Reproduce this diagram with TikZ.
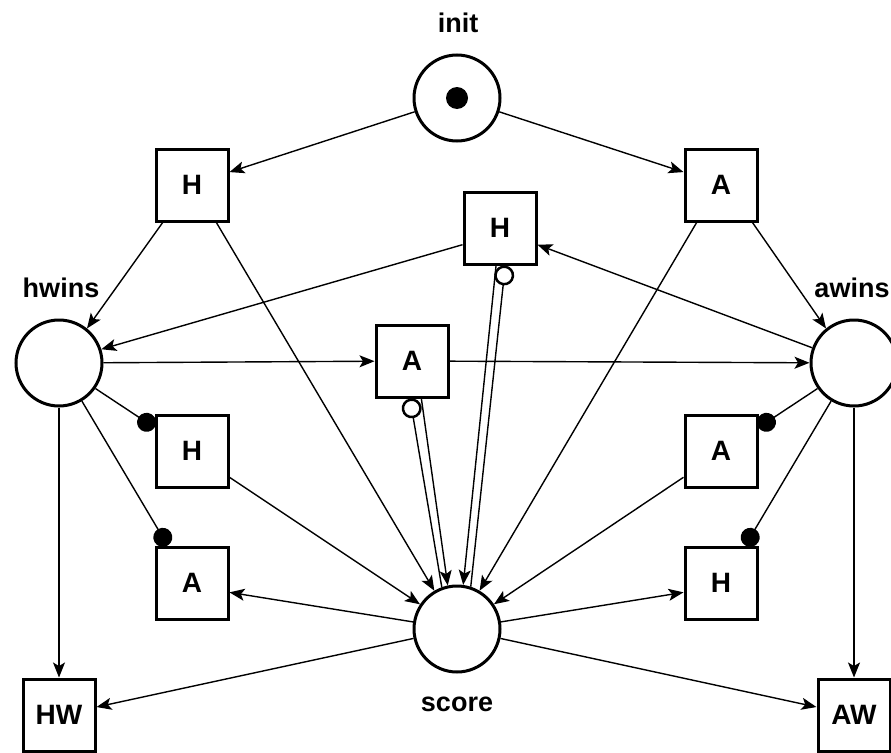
\documentclass[tikz,border=0pt]{standalone}
\usepackage{fontspec}
\setmainfont{Liberation Sans}
\usetikzlibrary{arrows.meta}
\begin{document}
\begin{tikzpicture}[x=1pt,y=-1pt,
  place/.style={circle,draw,line width=3pt,minimum size=86pt,inner sep=0pt},
  trans/.style={rectangle,draw,line width=3pt,minimum size=72pt,inner sep=0pt,
    font=\fontsize{28}{30}\selectfont\bfseries},
  lbl/.style={font=\fontsize{27}{30}\selectfont\bfseries,inner sep=0pt},
  arc/.style={line width=1.4pt,-{Stealth[length=15pt,width=12pt,inset=3.5pt]}},
  inhib/.style={line width=1.4pt,-{Circle[open,length=20pt,width=20pt,line width=2.5pt]}},
  testarc/.style={line width=1.4pt,-{Circle[length=19pt,width=19pt]}},
]
\fill[white] (0,0) rectangle (891,752);
\useasboundingbox (0,0) rectangle (891,752);

% places
\node[place] (init)  at (457,98)  {};
\node[place] (hwins) at (59,363)  {};
\node[place] (awins) at (854,363) {};
\node[place] (score) at (457,629) {};
\fill (init) circle (11pt);

% place labels
\node[lbl] (linit)  at (458,23)  {init};
\node[lbl] (lhwins) at (61,288)  {hwins};
\node[lbl] (lawins) at (852,288) {awins};
\node[lbl] (lscore) at (457,704) {score};

% transitions
\node[trans] (tH) at (192,185) {H};
\node[trans] (tA) at (721,185) {A};
\node[trans] (mH) at (500,228) {H};
\node[trans] (mA) at (412,361) {A};
\node[trans] (lH) at (192,451) {H};
\node[trans] (lA) at (192,583) {A};
\node[trans] (rA) at (721,451) {A};
\node[trans] (rH) at (721,583) {H};
\node[trans] (HW) at (59,715)  {HW};
\node[trans] (AW) at (854,715) {AW};

% arcs from init
\draw[arc] (init) -- (tH.19);
\draw[arc] (init) -- (tA.161);

% top transitions
\draw[arc] (tH.232) -- (hwins.51);
\draw[arc] (tH.-57) -- (score);
\draw[arc] (tA.-50) -- (awins.129);
\draw[arc] (tA.237) -- (score);

% middle transitions
\draw[arc] (awins.160) -- (mH.-24);
\draw[arc] (mH.204) -- (hwins.18);
\draw[arc] (hwins) -- (mA);
\draw[arc] (mA) -- (awins);
\draw[arc] (mA.-76) -- (score.102);
\draw[inhib] (score.110) -- (mA.-93);
\draw[arc] (mH.-96) -- (score.82);
\draw[inhib] (score.72) -- (mH.-82);

% left side
\draw[testarc] (hwins.-35) -- (lH.148);
\draw[testarc] (hwins.-59) -- (lA.123);
\draw[arc] (lH.-35) -- (score);
\draw[arc] (score) -- (lA.-14);
\draw[arc] (score) -- (HW.12);
\draw[arc] (hwins) -- (HW);

% right side
\draw[testarc] (awins.215) -- (rA.32);
\draw[testarc] (awins.239) -- (rH.57);
\draw[arc] (rA.215) -- (score);
\draw[arc] (score) -- (rH.194);
\draw[arc] (score) -- (AW.168);
\draw[arc] (awins) -- (AW);
\end{tikzpicture}
\end{document}
